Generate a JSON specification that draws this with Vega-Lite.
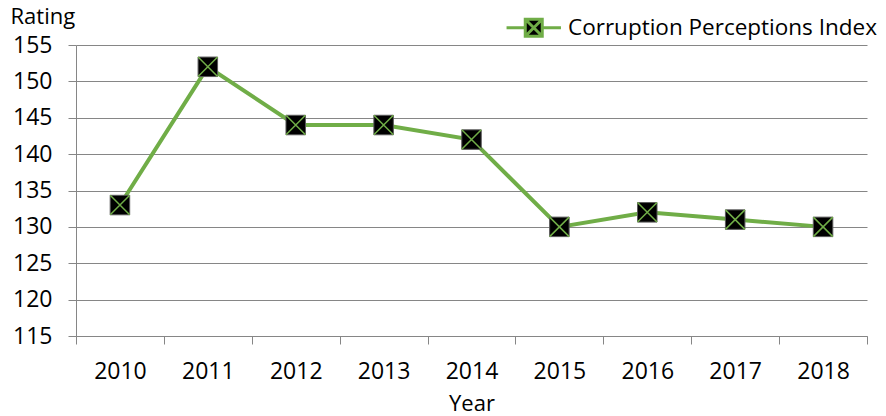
{
  "$schema": "https://vega.github.io/schema/vega-lite/v6.json",
  "autosize": {"type": "none"},
  "width": 791,
  "height": 291,
  "padding": {"left": 76, "top": 45, "right": 19, "bottom": 80},
  "background": "white",
  "config": {
    "font": "Open Sans",
    "view": {"stroke": null},
    "axis": {
      "labelFont": "Open Sans",
      "titleFont": "Open Sans",
      "labelColor": "black",
      "titleColor": "black",
      "titleFontWeight": "normal",
      "domainColor": "#868686",
      "tickColor": "#868686",
      "gridColor": "#868686",
      "tickSize": 8
    }
  },
  "data": {
    "values": [
      {"year": "2010", "rating": 133, "series": "Corruption Perceptions Index"},
      {"year": "2011", "rating": 152, "series": "Corruption Perceptions Index"},
      {"year": "2012", "rating": 144, "series": "Corruption Perceptions Index"},
      {"year": "2013", "rating": 144, "series": "Corruption Perceptions Index"},
      {"year": "2014", "rating": 142, "series": "Corruption Perceptions Index"},
      {"year": "2015", "rating": 130, "series": "Corruption Perceptions Index"},
      {"year": "2016", "rating": 132, "series": "Corruption Perceptions Index"},
      {"year": "2017", "rating": 131, "series": "Corruption Perceptions Index"},
      {"year": "2018", "rating": 130, "series": "Corruption Perceptions Index"}
    ]
  },
  "encoding": {
    "x": {
      "field": "year", "type": "ordinal",
      "scale": {"paddingInner": 0, "paddingOuter": 0},
      "axis": {
        "title": "Year", "titleFontSize": 22, "titlePadding": 10,
        "labelAngle": 0, "labelFontSize": 23, "labelPadding": 16,
        "tickBand": "extent", "grid": false
      }
    },
    "y": {
      "field": "rating", "type": "quantitative",
      "scale": {"domain": [115, 155], "nice": false, "zero": false},
      "axis": {
        "values": [115, 120, 125, 130, 135, 140, 145, 150, 155],
        "title": "Rating", "titleAngle": 0, "titleAlign": "left", "titleBaseline": "alphabetic",
        "titleX": -66, "titleY": -22, "titleFontSize": 22,
        "labelFontSize": 23, "labelPadding": 16, "grid": true
      }
    }
  },
  "layer": [
    {
      "mark": {"type": "line", "color": "#70AD47", "strokeWidth": 4},
      "encoding": {
        "color": {
          "field": "series", "type": "nominal",
          "scale": {"range": ["#70AD47"]},
          "legend": {
            "title": null, "orient": "none", "legendX": 446.5, "legendY": -28.5,
            "padding": 0,
            "symbolType": "M-3.2,0H-1M1,0H3.2M-1,-1H1V1H-1ZM-1,-1L1,1M-1,1L1,-1",
            "symbolSize": 289, "symbolFillColor": "black", "symbolStrokeColor": "#70AD47",
            "symbolStrokeWidth": 3,
            "labelFontSize": 22.5, "labelColor": "black", "labelOffset": 23, "labelFont": "Open Sans",
            "labelLimit": 0
          }
        }
      }
    },
    {
      "mark": {"type": "point", "shape": "square", "filled": true, "fill": "black", "stroke": "#595959", "strokeWidth": 1, "size": 380, "opacity": 1}
    },
    {
      "mark": {"type": "point", "shape": "M-1,-1L1,1M-1,1L1,-1", "filled": false, "stroke": "#70AD47", "strokeWidth": 1.5, "size": 380, "opacity": 1}
    }
  ]
}
